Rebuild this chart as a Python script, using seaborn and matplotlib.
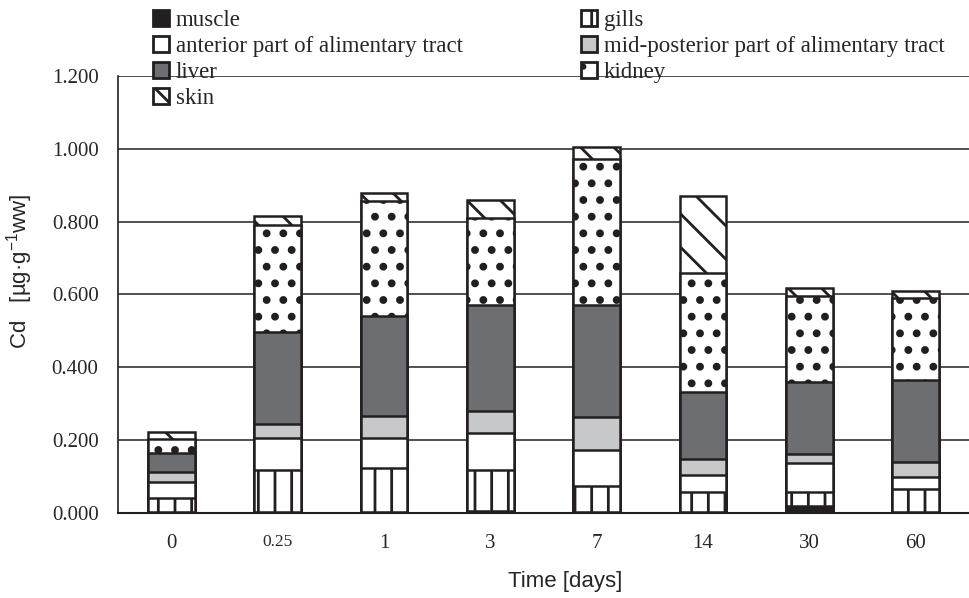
import numpy as np
import pandas as pd
import matplotlib
matplotlib.use("Agg")
import matplotlib.pyplot as plt
from matplotlib.patches import Patch
from matplotlib.ticker import FormatStrFormatter, MultipleLocator
import seaborn as sns

DAYS = ["0", "0.25", "1", "3", "7", "14", "30", "60"]

# Cd content per tissue [ug/g ww], stacked bottom -> top
muscle        = [0.002, 0.002, 0.002, 0.005, 0.002, 0.002, 0.019, 0.002]
gills         = [0.038, 0.116, 0.121, 0.113, 0.072, 0.057, 0.040, 0.063]
anterior      = [0.045, 0.089, 0.084, 0.103, 0.099, 0.046, 0.077, 0.033]
mid_posterior = [0.028, 0.038, 0.058, 0.060, 0.090, 0.042, 0.025, 0.043]
liver         = [0.053, 0.251, 0.277, 0.291, 0.309, 0.185, 0.200, 0.224]
kidney        = [0.037, 0.295, 0.315, 0.237, 0.400, 0.326, 0.235, 0.225]
skin          = [0.020, 0.025, 0.021, 0.051, 0.033, 0.213, 0.021, 0.020]

TISSUES = ["muscle", "gills", "anterior", "mid_posterior", "liver", "kidney", "skin"]
LABELS = {
    "muscle": "muscle",
    "gills": "gills",
    "anterior": "anterior part of alimentary tract",
    "mid_posterior": "mid-posterior part of alimentary tract",
    "liver": "liver",
    "kidney": "kidney",
    "skin": "skin",
}

EDGE = "#231f20"
STYLE = {
    "muscle":        dict(color=EDGE, hatch=None),
    "gills":         dict(color="white", hatch="|"),
    "anterior":      dict(color="white", hatch=None),
    "mid_posterior": dict(color="#c7c8ca", hatch=None),
    "liver":         dict(color="#6d6e71", hatch=None),
    "kidney":        dict(color="white", hatch="."),
    "skin":          dict(color="white", hatch="\\"),
}
DOT_LW = 3.2

df = pd.DataFrame({
    "day": DAYS,
    "muscle": muscle,
    "gills": gills,
    "anterior": anterior,
    "mid_posterior": mid_posterior,
    "liver": liver,
    "kidney": kidney,
    "skin": skin,
})
cum = df[TISSUES].cumsum(axis=1)

sns.set_style("white")
plt.rcParams["font.family"] = ["Liberation Serif", "DejaVu Serif"]
plt.rcParams["mathtext.fontset"] = "custom"
plt.rcParams["mathtext.rm"] = "Liberation Sans"
plt.rcParams["hatch.linewidth"] = 2.0

fig = plt.figure(figsize=(9.7, 5.98), dpi=100)
ax = fig.add_axes([118 / 970, 85 / 598, 851 / 970, 437 / 598])

# draw cumulative totals from the top layer down so each covers the next
for tissue in reversed(TISSUES):
    n0 = len(ax.patches)
    sns.barplot(x=df["day"], y=cum[tissue], order=DAYS,
                color=STYLE[tissue]["color"], hatch=STYLE[tissue]["hatch"],
                edgecolor=EDGE, linewidth=1.8, width=0.44, saturation=1,
                errorbar=None, ax=ax)
    if tissue == "kidney":
        for p in ax.patches[n0:]:
            if hasattr(p, "set_hatch_linewidth"):
                p.set_hatch_linewidth(DOT_LW)

ax.set_xlim(-0.5, 7.5)
ax.set_ylim(0, 1.2)
ax.yaxis.set_major_locator(MultipleLocator(0.2))
ax.yaxis.set_major_formatter(FormatStrFormatter("%.3f"))
ax.set_xticks(range(len(DAYS)))
ax.set_xticklabels(DAYS)
ax.set_xticks(np.arange(-0.5, len(DAYS), 1), minor=True)
ax.tick_params(axis="x", which="major", length=0, pad=15, labelsize=15)
ax.tick_params(axis="x", which="minor", length=6, width=1.2, color=EDGE)
ax.tick_params(axis="y", length=5, width=1.2, color=EDGE, pad=9, labelsize=15)
ax.get_xticklabels()[1].set_fontsize(12.5)

ax.yaxis.grid(True, color=EDGE, linewidth=1.1)
ax.set_axisbelow(True)
ax.get_ygridlines()[-1].set_visible(False)

for side in ["top", "right"]:
    ax.spines[side].set_visible(False)
ax.spines["left"].set_color(EDGE)
ax.spines["left"].set_linewidth(1.2)
ax.spines["bottom"].set_color(EDGE)
ax.spines["bottom"].set_linewidth(1.5)

ax.set_ylabel("Cd   [µg·g$^{-1}$ww]", family="Liberation Sans", fontsize=16)
ax.yaxis.set_label_coords(-0.098, 0.554)
ax.set_xlabel("Time [days]", family="Liberation Sans", fontsize=16)
ax.xaxis.set_label_coords(0.525, -0.133)


def handle(tissue):
    h = Patch(facecolor=STYLE[tissue]["color"], edgecolor=EDGE, linewidth=2,
              hatch=STYLE[tissue]["hatch"], label=LABELS[tissue])
    if tissue == "kidney" and hasattr(h, "set_hatch_linewidth"):
        h.set_hatch_linewidth(DOT_LW)
    return h


leg_kw = dict(loc="upper left", frameon=False, fontsize=16.5, handlelength=0.7,
              handleheight=0.7, handletextpad=0.3, labelspacing=0.21,
              borderpad=0, borderaxespad=0)
fig.legend(handles=[handle(t) for t in ["muscle", "anterior", "liver", "skin"]],
           bbox_to_anchor=(153 / 970, 1 - 10 / 598), **leg_kw)
fig.legend(handles=[handle(t) for t in ["gills", "mid_posterior", "kidney"]],
           bbox_to_anchor=(581 / 970, 1 - 10 / 598), **leg_kw)

fig.savefig("out.png", dpi=100)
